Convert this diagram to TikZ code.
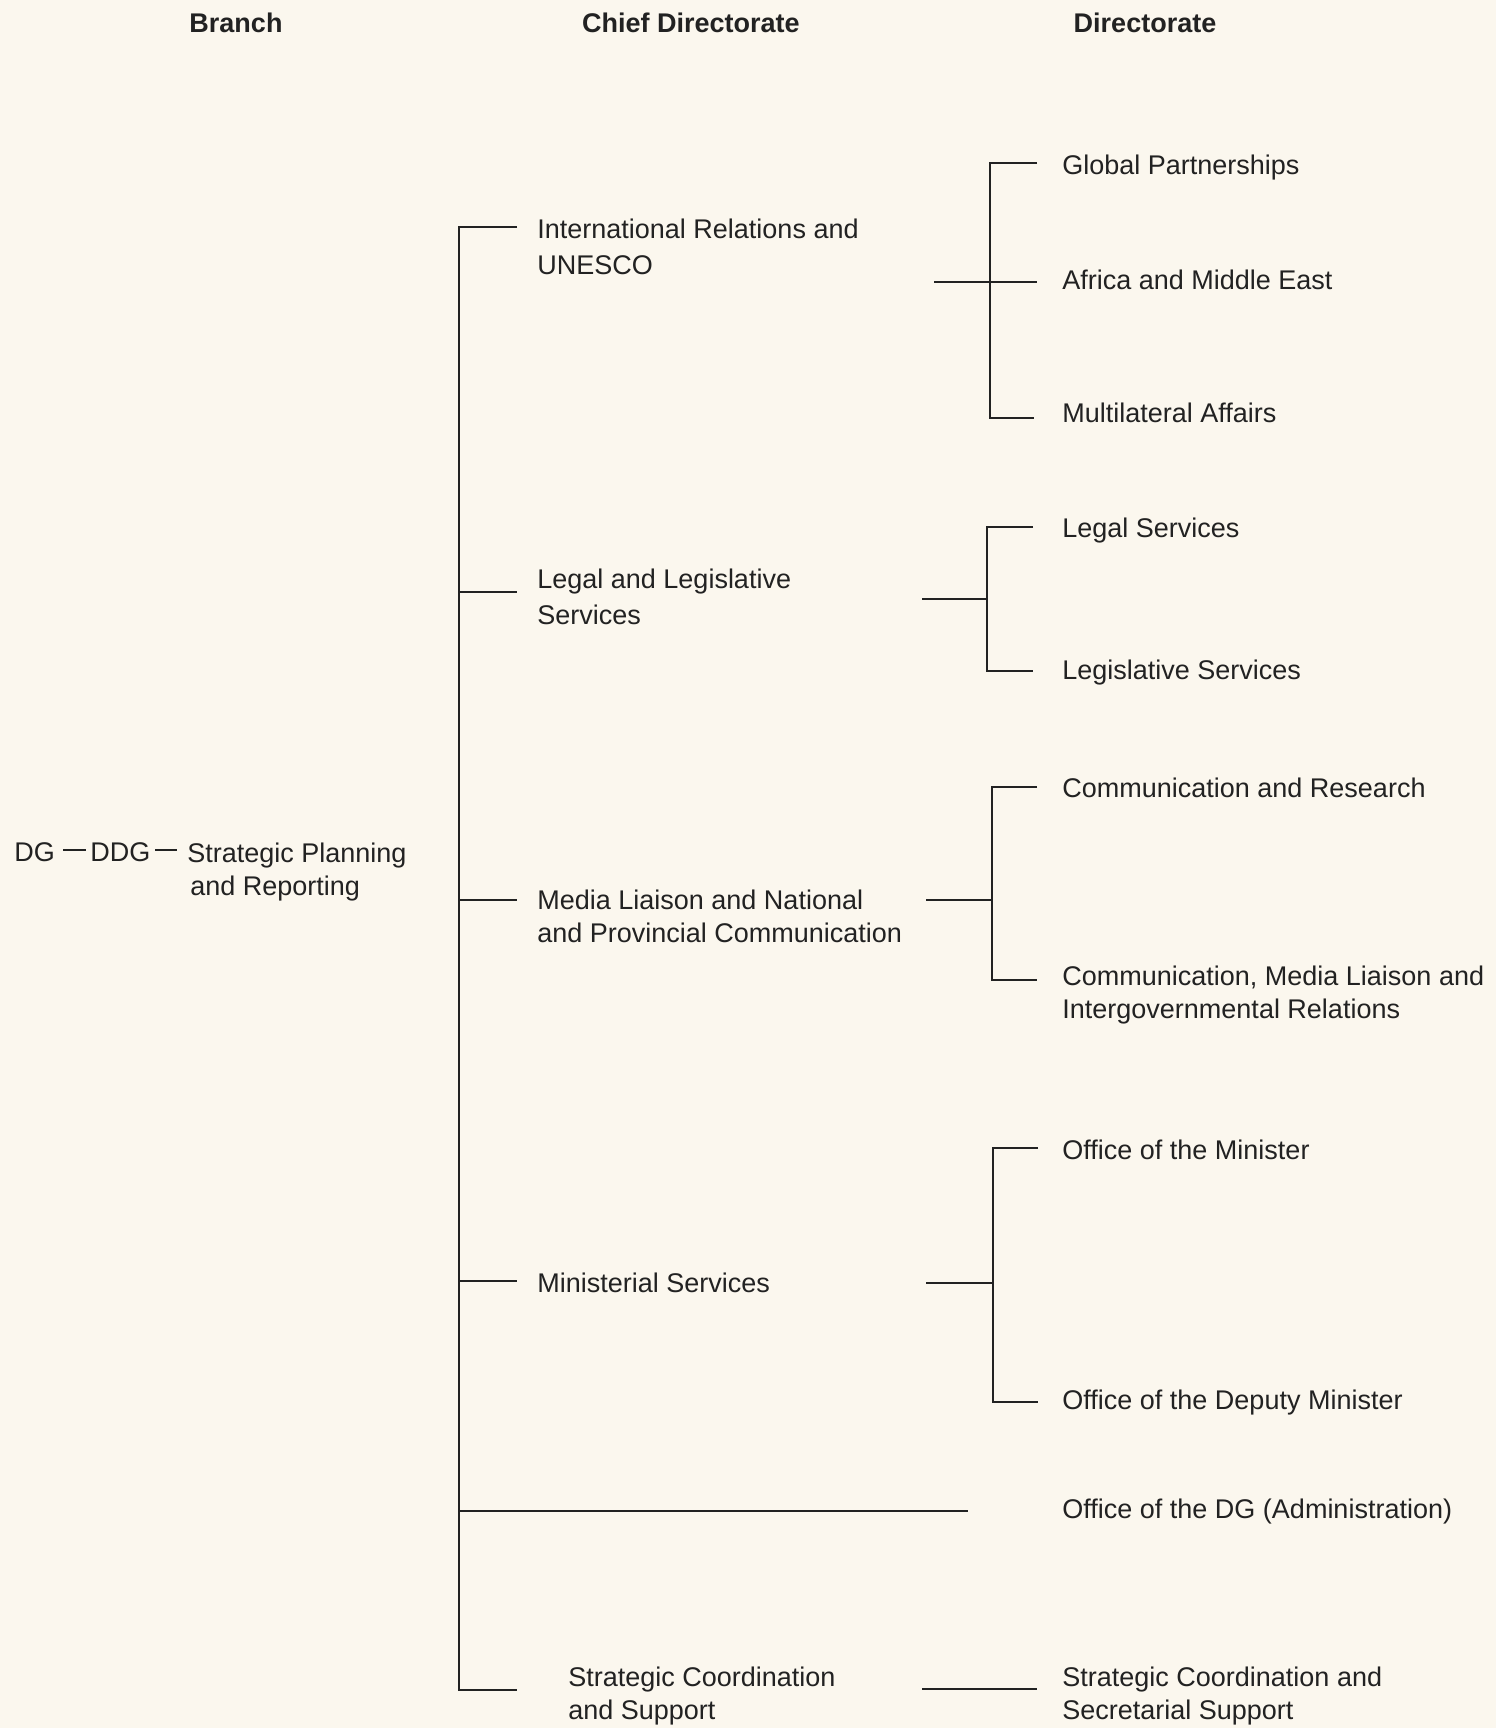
\documentclass[tikz,border=0pt]{standalone}
\usepackage{fontspec}
\setmainfont{Liberation Sans}
\definecolor{bg}{HTML}{FBF7EE}
\definecolor{ink}{HTML}{222222}
\begin{document}
\begin{tikzpicture}[x=0.5pt,y=-0.5pt,
  every node/.style={inner sep=0pt, text=ink},
  lbl/.style={anchor=west, align=left, font=\fontsize{13.5}{16.5}\selectfont},
  one/.style={lbl, text height=9.8pt, text depth=0pt},
  lblw/.style={anchor=west, align=left, font=\fontsize{13.5}{18}\selectfont},
  hdr/.style={font=\fontsize{13.5}{16.5}\selectfont\bfseries},
  ln/.style={draw=ink, line width=1.1pt}]
\fill[bg] (0,0) rectangle (1496,1728);
\useasboundingbox (0,0) rectangle (1496,1728);

% headers
\node[hdr] (hB) at (236,23) {Branch};
\node[hdr] (hC) at (691,23) {Chief Directorate};
\node[hdr] (hD) at (1145,23) {Directorate};

% branch
\node[one] (dg) at (14,852) {DG};
\node[one] (ddg) at (90,852) {DDG};
\node[lbl] (spr) at (187,872) {Strategic Planning\\\hspace{1.5pt}and Reporting};
\coordinate (dgA) at (63,850); \coordinate (dgB) at (86,850);
\coordinate (ddgA) at (155,850); \coordinate (ddgB) at (177,850);
\draw[ln] (dgA) -- (dgB);
\draw[ln] (ddgA) -- (ddgB);

% chief directorates
\node[lblw] (ir) at (537,247) {International Relations and\\UNESCO};
\node[lblw] (lls) at (537,597) {Legal and Legislative\\Services};
\node[lbl] (ml) at (537,916) {Media Liaison and National\\and Provincial Communication};
\node[one] (ms) at (537,1283) {Ministerial Services};
\node[lbl] (scs) at (568,1696) {Strategic Coordination\\and Support};

% main spine
\coordinate (sTop) at (459,227);
\coordinate (sBot) at (459,1690);
\draw[ln] (517,227) -- (sTop) -- (sBot) -- (517,1690);
\coordinate (tLls) at (517,592);
\coordinate (tMl) at (517,900);
\coordinate (tMs) at (517,1281);
\coordinate (tOdg) at (968,1511);
\draw[ln] (459,592) -- (tLls);
\draw[ln] (459,900) -- (tMl);
\draw[ln] (459,1281) -- (tMs);
\draw[ln] (459,1511) -- (tOdg);

% directorates
\node[one] (gp) at (1062,165) {Global Partnerships};
\node[one] (ame) at (1062,280) {Africa and Middle East};
\node[one] (mla) at (1062,413) {Multilateral Affairs};
\node[one] (ls) at (1062,528) {Legal Services};
\node[one] (lgs) at (1062,670) {Legislative Services};
\node[one] (cr) at (1062,788) {Communication and Research};
\node[lbl] (cml) at (1062,995) {Communication, Media Liaison and\\Intergovernmental Relations};
\node[one] (om) at (1062,1150) {Office of the Minister};
\node[one] (odm) at (1062,1400) {Office of the Deputy Minister};
\node[one] (odg) at (1062,1509) {Office of the DG (Administration)};
\node[lbl] (scss) at (1062,1696) {Strategic Coordination and\\Secretarial Support};

% IR bracket
\draw[ln] (934,282) -- (1037,282);
\draw[ln] (1037,163) -- (990,163) -- (990,418) -- (1034,418);
% Legal bracket
\draw[ln] (922,599) -- (987,599);
\draw[ln] (1033,527) -- (987,527) -- (987,671) -- (1033,671);
% Media bracket
\draw[ln] (926,900) -- (992,900);
\draw[ln] (1037,787) -- (992,787) -- (992,980) -- (1037,980);
% Ministerial bracket
\draw[ln] (926,1283) -- (993,1283);
\draw[ln] (1038,1148) -- (993,1148) -- (993,1402) -- (1038,1402);
% SCS
\draw[ln] (922,1689) -- (1037,1689);
\end{tikzpicture}
\end{document}
